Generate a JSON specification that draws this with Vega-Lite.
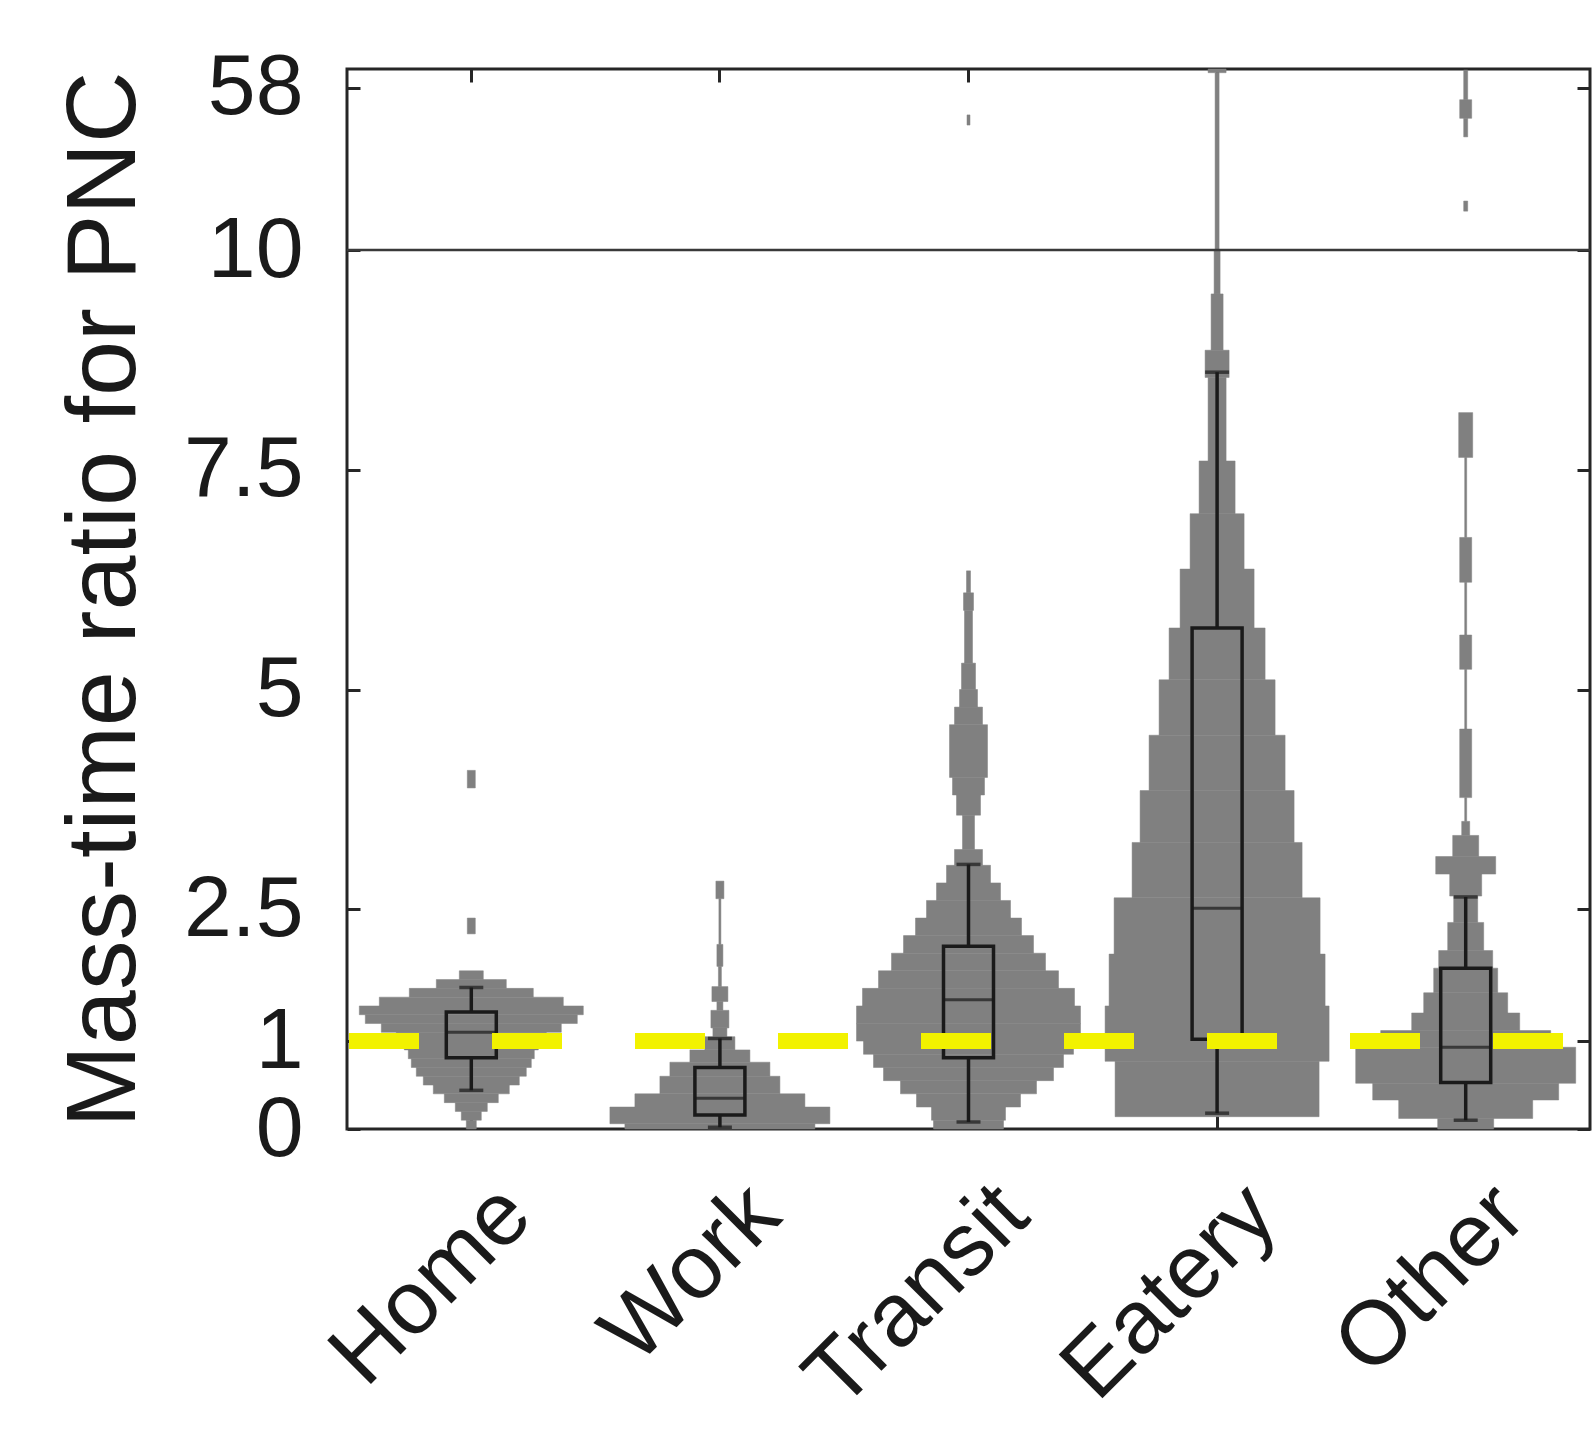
{
  "$schema": "https://vega.github.io/schema/vega-lite/v6.json",
  "width": 1243,
  "height": 1060,
  "autosize": {"type": "none"},
  "padding": {"left": 347, "top": 69, "right": 6, "bottom": 318},
  "background": "white",
  "config": {
    "font": "Liberation Sans",
    "view": {"stroke": "#262626", "strokeWidth": 3},
    "axis": {
      "grid": false,
      "domain": false,
      "tickColor": "#262626",
      "tickWidth": 3,
      "tickSize": -13,
      "labelColor": "#1a1a1a",
      "labelFont": "Liberation Sans",
      "labelFontSize": 86,
      "labelLimit": 2000,
      "labelOverlap": false,
      "titleFont": "Liberation Sans",
      "titleFontSize": 99,
      "titleFontWeight": "normal",
      "titleColor": "#1a1a1a"
    }
  },
  "datasets": {
    "violin": [
      {"cat": "Home", "lo": 0, "hi": 0.1, "density": 5},
      {"cat": "Home", "lo": 0.1, "hi": 0.2, "density": 10},
      {"cat": "Home", "lo": 0.2, "hi": 0.3, "density": 16},
      {"cat": "Home", "lo": 0.3, "hi": 0.4, "density": 27},
      {"cat": "Home", "lo": 0.4, "hi": 0.5, "density": 38},
      {"cat": "Home", "lo": 0.5, "hi": 0.6, "density": 48},
      {"cat": "Home", "lo": 0.6, "hi": 0.7, "density": 55},
      {"cat": "Home", "lo": 0.7, "hi": 0.8, "density": 60},
      {"cat": "Home", "lo": 0.8, "hi": 0.9, "density": 63},
      {"cat": "Home", "lo": 0.9, "hi": 1.0, "density": 67},
      {"cat": "Home", "lo": 1.0, "hi": 1.1, "density": 75},
      {"cat": "Home", "lo": 1.1, "hi": 1.2, "density": 90},
      {"cat": "Home", "lo": 1.2, "hi": 1.3, "density": 106},
      {"cat": "Home", "lo": 1.3, "hi": 1.4, "density": 112},
      {"cat": "Home", "lo": 1.4, "hi": 1.5, "density": 92},
      {"cat": "Home", "lo": 1.5, "hi": 1.6, "density": 62},
      {"cat": "Home", "lo": 1.6, "hi": 1.7, "density": 35},
      {"cat": "Home", "lo": 1.7, "hi": 1.8, "density": 12},
      {"cat": "Home", "lo": 2.22, "hi": 2.4, "density": 4},
      {"cat": "Home", "lo": 3.88, "hi": 4.08, "density": 4},
      {"cat": "Work", "lo": 0, "hi": 0.06, "density": 95},
      {"cat": "Work", "lo": 0.06, "hi": 0.25, "density": 110},
      {"cat": "Work", "lo": 0.25, "hi": 0.4, "density": 85},
      {"cat": "Work", "lo": 0.4, "hi": 0.6, "density": 60},
      {"cat": "Work", "lo": 0.6, "hi": 0.76, "density": 50},
      {"cat": "Work", "lo": 0.76, "hi": 0.9, "density": 30},
      {"cat": "Work", "lo": 0.9, "hi": 1.05, "density": 15},
      {"cat": "Work", "lo": 1.05, "hi": 1.15, "density": 7},
      {"cat": "Work", "lo": 1.15, "hi": 1.35, "density": 9},
      {"cat": "Work", "lo": 1.35, "hi": 1.45, "density": 3},
      {"cat": "Work", "lo": 1.45, "hi": 1.62, "density": 8},
      {"cat": "Work", "lo": 1.62, "hi": 1.85, "density": 1.5},
      {"cat": "Work", "lo": 1.85, "hi": 2.1, "density": 3},
      {"cat": "Work", "lo": 2.1, "hi": 2.62, "density": 1},
      {"cat": "Work", "lo": 2.62, "hi": 2.82, "density": 4},
      {"cat": "Transit", "lo": 0, "hi": 0.1, "density": 35},
      {"cat": "Transit", "lo": 0.1, "hi": 0.25, "density": 37},
      {"cat": "Transit", "lo": 0.25, "hi": 0.4, "density": 52},
      {"cat": "Transit", "lo": 0.4, "hi": 0.55, "density": 68},
      {"cat": "Transit", "lo": 0.55, "hi": 0.7, "density": 85},
      {"cat": "Transit", "lo": 0.7, "hi": 0.85, "density": 95},
      {"cat": "Transit", "lo": 0.85, "hi": 1.0, "density": 105},
      {"cat": "Transit", "lo": 1.0, "hi": 1.2, "density": 112},
      {"cat": "Transit", "lo": 1.2, "hi": 1.4, "density": 112},
      {"cat": "Transit", "lo": 1.4, "hi": 1.6, "density": 106},
      {"cat": "Transit", "lo": 1.6, "hi": 1.8, "density": 90},
      {"cat": "Transit", "lo": 1.8, "hi": 2.0, "density": 77},
      {"cat": "Transit", "lo": 2.0, "hi": 2.2, "density": 65},
      {"cat": "Transit", "lo": 2.2, "hi": 2.4, "density": 53},
      {"cat": "Transit", "lo": 2.4, "hi": 2.6, "density": 42},
      {"cat": "Transit", "lo": 2.6, "hi": 2.8, "density": 32},
      {"cat": "Transit", "lo": 2.8, "hi": 3.0, "density": 22},
      {"cat": "Transit", "lo": 3.0, "hi": 3.18, "density": 14},
      {"cat": "Transit", "lo": 3.18, "hi": 3.57, "density": 6},
      {"cat": "Transit", "lo": 3.57, "hi": 3.8, "density": 12},
      {"cat": "Transit", "lo": 3.8, "hi": 4.0, "density": 16},
      {"cat": "Transit", "lo": 4.0, "hi": 4.6, "density": 19},
      {"cat": "Transit", "lo": 4.6, "hi": 4.8, "density": 14},
      {"cat": "Transit", "lo": 4.8, "hi": 5.0, "density": 9},
      {"cat": "Transit", "lo": 5.0, "hi": 5.3, "density": 7},
      {"cat": "Transit", "lo": 5.3, "hi": 5.9, "density": 4},
      {"cat": "Transit", "lo": 5.9, "hi": 6.1, "density": 5},
      {"cat": "Transit", "lo": 6.1, "hi": 6.35, "density": 2},
      {"cat": "Transit", "lo": 47, "hi": 50, "density": 1.5},
      {"cat": "Eatery", "lo": 0.14, "hi": 0.77, "density": 102},
      {"cat": "Eatery", "lo": 0.77, "hi": 1.4, "density": 112},
      {"cat": "Eatery", "lo": 1.4, "hi": 1.99, "density": 108},
      {"cat": "Eatery", "lo": 1.99, "hi": 2.63, "density": 103},
      {"cat": "Eatery", "lo": 2.63, "hi": 3.26, "density": 85},
      {"cat": "Eatery", "lo": 3.26, "hi": 3.85, "density": 77},
      {"cat": "Eatery", "lo": 3.85, "hi": 4.48, "density": 68},
      {"cat": "Eatery", "lo": 4.48, "hi": 5.11, "density": 58},
      {"cat": "Eatery", "lo": 5.11, "hi": 5.7, "density": 48},
      {"cat": "Eatery", "lo": 5.7, "hi": 6.37, "density": 37},
      {"cat": "Eatery", "lo": 6.37, "hi": 7.0, "density": 27},
      {"cat": "Eatery", "lo": 7.0, "hi": 7.6, "density": 18},
      {"cat": "Eatery", "lo": 7.6, "hi": 8.55, "density": 9},
      {"cat": "Eatery", "lo": 8.55, "hi": 8.86, "density": 12},
      {"cat": "Eatery", "lo": 8.86, "hi": 9.5, "density": 6},
      {"cat": "Eatery", "lo": 9.5, "hi": 10, "density": 3},
      {"cat": "Eatery", "lo": 10, "hi": 62.5, "density": 2},
      {"cat": "Eatery", "lo": 62.5, "hi": 63.6, "density": 9},
      {"cat": "Other", "lo": 0, "hi": 0.12, "density": 28},
      {"cat": "Other", "lo": 0.12, "hi": 0.33, "density": 67},
      {"cat": "Other", "lo": 0.33, "hi": 0.52, "density": 93},
      {"cat": "Other", "lo": 0.52, "hi": 0.93, "density": 110},
      {"cat": "Other", "lo": 0.93, "hi": 1.12, "density": 85},
      {"cat": "Other", "lo": 1.12, "hi": 1.32, "density": 54},
      {"cat": "Other", "lo": 1.32, "hi": 1.55, "density": 42},
      {"cat": "Other", "lo": 1.55, "hi": 1.83, "density": 32},
      {"cat": "Other", "lo": 1.83, "hi": 2.03, "density": 27},
      {"cat": "Other", "lo": 2.03, "hi": 2.35, "density": 18},
      {"cat": "Other", "lo": 2.35, "hi": 2.65, "density": 12},
      {"cat": "Other", "lo": 2.65, "hi": 2.9, "density": 16},
      {"cat": "Other", "lo": 2.9, "hi": 3.1, "density": 30},
      {"cat": "Other", "lo": 3.1, "hi": 3.34, "density": 13},
      {"cat": "Other", "lo": 3.34, "hi": 3.5, "density": 4},
      {"cat": "Other", "lo": 3.5, "hi": 3.77, "density": 1},
      {"cat": "Other", "lo": 3.77, "hi": 4.55, "density": 6},
      {"cat": "Other", "lo": 4.55, "hi": 5.23, "density": 1},
      {"cat": "Other", "lo": 5.23, "hi": 5.62, "density": 6},
      {"cat": "Other", "lo": 5.62, "hi": 6.22, "density": 1},
      {"cat": "Other", "lo": 6.22, "hi": 6.73, "density": 6},
      {"cat": "Other", "lo": 6.73, "hi": 7.64, "density": 1},
      {"cat": "Other", "lo": 7.64, "hi": 8.15, "density": 7},
      {"cat": "Other", "lo": 21.5, "hi": 24.5, "density": 2},
      {"cat": "Other", "lo": 43.5, "hi": 49, "density": 2},
      {"cat": "Other", "lo": 49, "hi": 54.5, "density": 6},
      {"cat": "Other", "lo": 54.5, "hi": 63.3, "density": 2}
    ],
    "box": [
      {"cat": "Home", "wlo": 0.44, "q1": 0.81, "median": 1.1, "q3": 1.33, "whi": 1.61},
      {"cat": "Work", "wlo": 0.02, "q1": 0.16, "median": 0.35, "q3": 0.7, "whi": 1.03},
      {"cat": "Transit", "wlo": 0.08, "q1": 0.81, "median": 1.47, "q3": 2.08, "whi": 3.01},
      {"cat": "Eatery", "wlo": 0.18, "q1": 1.02, "median": 2.51, "q3": 5.7, "whi": 8.61},
      {"cat": "Other", "wlo": 0.1, "q1": 0.53, "median": 0.93, "q3": 1.83, "whi": 2.64}
    ],
    "refs": [
      {"kind": "break", "value": 10},
      {"kind": "unity", "value": 1}
    ]
  },
  "layer": [
    {
      "data": {"name": "violin"},
      "mark": {"type": "bar", "color": "#808080", "stroke": "#808080", "strokeWidth": 0.5},
      "encoding": {
        "x": {"field": "cat", "type": "nominal", "sort": ["Home", "Work", "Transit", "Eatery", "Other"],
              "scale": {"paddingInner": 0, "paddingOuter": 0},
              "axis": {"orient": "bottom", "title": null, "labelAngle": -45, "labelAlign": "right", "labelBaseline": "middle", "labelOffset": 45, "labelPadding": 84, "labelFontSize": 90}},
        "y": {"field": "lo", "type": "quantitative",
              "scale": {"domain": [0, 10, 63.6], "range": [1060, 181, 0], "nice": false, "zero": false},
              "axis": {"orient": "left", "values": [0, 1, 2.5, 5, 7.5, 10, 58], "labelExpr": "'' + datum.value", "title": "Mass-time ratio for PNC", "labelPadding": 57, "titlePadding": 28}},
        "y2": {"field": "hi"},
        "size": {"field": "density", "type": "quantitative", "scale": {"domain": [0, 112], "range": [0, 224]}, "legend": null}
      }
    },
    {
      "data": {"name": "box"},
      "mark": {"type": "rule", "color": "#1a1a1a", "strokeWidth": 3.5},
      "encoding": {
        "x": {"field": "cat", "type": "nominal", "sort": ["Home", "Work", "Transit", "Eatery", "Other"], "axis": null},
        "y": {"field": "wlo", "type": "quantitative", "axis": null},
        "y2": {"field": "q1"}
      }
    },
    {
      "data": {"name": "box"},
      "mark": {"type": "rule", "color": "#1a1a1a", "strokeWidth": 3.5},
      "encoding": {
        "x": {"field": "cat", "type": "nominal", "sort": ["Home", "Work", "Transit", "Eatery", "Other"], "axis": null},
        "y": {"field": "q3", "type": "quantitative", "axis": null},
        "y2": {"field": "whi"}
      }
    },
    {
      "data": {"name": "box"},
      "mark": {"type": "bar", "fill": "transparent", "stroke": "#1a1a1a", "strokeWidth": 3.5},
      "encoding": {
        "x": {"field": "cat", "type": "nominal", "sort": ["Home", "Work", "Transit", "Eatery", "Other"], "axis": null},
        "y": {"field": "q1", "type": "quantitative", "axis": null},
        "y2": {"field": "q3"},
        "size": {"value": 50}
      }
    },
    {
      "data": {"name": "box"},
      "mark": {"type": "tick", "color": "#1a1a1a", "size": 50, "thickness": 3},
      "encoding": {
        "x": {"field": "cat", "type": "nominal", "sort": ["Home", "Work", "Transit", "Eatery", "Other"],
              "axis": {"orient": "top", "labels": false, "title": null}},
        "y": {"field": "median", "type": "quantitative",
              "axis": {"orient": "right", "values": [0, 1, 2.5, 5, 7.5, 10, 58], "labels": false, "title": null}}
      }
    },
    {
      "data": {"name": "box"},
      "mark": {"type": "tick", "color": "#1a1a1a", "size": 24, "thickness": 3.5},
      "encoding": {
        "x": {"field": "cat", "type": "nominal", "sort": ["Home", "Work", "Transit", "Eatery", "Other"], "axis": null},
        "y": {"field": "wlo", "type": "quantitative", "axis": null}
      }
    },
    {
      "data": {"name": "box"},
      "mark": {"type": "tick", "color": "#1a1a1a", "size": 24, "thickness": 3.5},
      "encoding": {
        "x": {"field": "cat", "type": "nominal", "sort": ["Home", "Work", "Transit", "Eatery", "Other"], "axis": null},
        "y": {"field": "whi", "type": "quantitative", "axis": null}
      }
    },
    {
      "data": {"name": "refs"},
      "transform": [{"filter": "datum.kind === 'break'"}],
      "mark": {"type": "rule", "color": "#3a3a3a", "strokeWidth": 2.5},
      "encoding": {"y": {"field": "value", "type": "quantitative", "axis": null}}
    },
    {
      "data": {"name": "refs"},
      "transform": [{"filter": "datum.kind === 'unity'"}],
      "mark": {"type": "rule", "color": "#f2f200", "strokeWidth": 16, "strokeDash": [70, 73], "strokeDashOffset": 116},
      "encoding": {"y": {"field": "value", "type": "quantitative", "axis": null}}
    }
  ],
  "resolve": {"axis": {"x": "independent", "y": "independent"}}
}
